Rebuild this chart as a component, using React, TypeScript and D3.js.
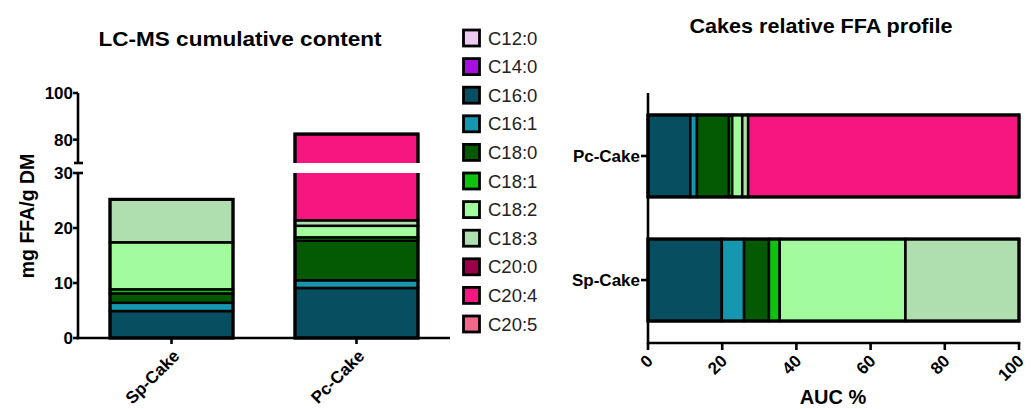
import React from 'react';
import * as d3 from 'd3';

const fattyAcids = ['C12:0', 'C14:0', 'C16:0', 'C16:1', 'C18:0', 'C18:1', 'C18:2', 'C18:3', 'C20:0', 'C20:4', 'C20:5'];
const faColors = ['#EBCBF2', '#A60FE0', '#064E60', '#1597B0', '#035A03', '#0DC30D', '#A2FC9E', '#AFDFAE', '#9A0048', '#F5177F', '#F2688A'];

const samples = ['Sp-Cake', 'Pc-Cake'];
const spCakeMg = [0, 0, 4.9, 1.5, 1.7, 0.75, 8.55, 7.8, 0, 0, 0];
const pcCakeMg = [0, 0, 9.1, 1.4, 7.2, 0.6, 2.1, 1.0, 0, 61.0, 0];

const relSamples = ['Pc-Cake', 'Sp-Cake'];
const pcCakeAuc = [0, 0, 11.4, 1.8, 8.6, 0.9, 2.7, 1.6, 0, 73.0, 0];
const spCakeAuc = [0, 0, 19.9, 6.0, 6.7, 2.9, 33.9, 30.6, 0, 0, 0];

const lowTicks = [0, 10, 20, 30];
const highTicks = [80, 100];
const aucTicks = [0, 20, 40, 60, 80, 100];

const FONT = "'Liberation Sans', Arial, Helvetica, sans-serif";

function toRows(names: string[], series: number[][]) {
  return names.map((s, i) => {
    const o: any = { sample: s };
    fattyAcids.forEach((f, j) => (o[f] = series[i][j]));
    return o;
  });
}

export default function App() {
  const W = 1035, H = 409;
  // ---------- left chart ----------
  const x = d3.scaleBand<string>().domain(samples).range([78, 450]).paddingInner(0.335).paddingOuter(0.173);
  const yLow = d3.scaleLinear().domain([0, 30]).range([338, 173]);
  const yHigh = d3.scaleLinear().domain([70, 100]).range([163, 93]);
  const leftRows = toRows(samples, [spCakeMg, pcCakeMg]);
  const leftStack = d3.stack<any>().keys(fattyAcids)(leftRows);
  const totals = leftRows.map((r) => fattyAcids.reduce((a, f) => a + r[f], 0));

  // ---------- right chart ----------
  const xr = d3.scaleLinear().domain([0, 100]).range([648, 1019]);
  const yr = d3.scaleBand<string>().domain(relSamples).range([93, 343]).paddingInner(0.339).paddingOuter(0.177);
  const rightRows = toRows(relSamples, [pcCakeAuc, spCakeAuc]);
  const rightStack = d3.stack<any>().keys(fattyAcids)(rightRows);

  const panels = [
    { id: 'clipLow', y: yLow, clipY: 173, clipH: 170 },
    { id: 'clipHigh', y: yHigh, clipY: 85, clipH: 78 },
  ];

  return (
    <svg width={W} height={H} style={{ position: 'absolute', left: 0, top: 0, background: '#fff' }} fontFamily={FONT}>
      <defs>
        {panels.map((p) => (
          <clipPath id={p.id} key={p.id}>
            <rect x={0} y={p.clipY} width={460} height={p.clipH} />
          </clipPath>
        ))}
      </defs>

      {/* Titles */}
      <text x={240} y={46} textAnchor="middle" fontWeight="bold" fontSize={20.5} textLength={283} lengthAdjust="spacingAndGlyphs">LC-MS cumulative content</text>
      <text x={821} y={33} textAnchor="middle" fontWeight="bold" fontSize={20.5} textLength={263} lengthAdjust="spacingAndGlyphs">Cakes relative FFA profile</text>

      {/* Left bars */}
      {panels.map((p) => (
        <g key={p.id} clipPath={`url(#${p.id})`}>
          {leftStack.map((layer, li) =>
            layer.map((d, si) => {
              if (d[1] - d[0] <= 0) return null;
              const y0 = p.y(d[0]);
              const y1 = p.y(d[1]);
              return (
                <rect key={`${li}-${si}`} x={x(samples[si])!} y={y1} width={x.bandwidth()} height={y0 - y1}
                  fill={faColors[li]} stroke="#000" strokeWidth={2.5} />
              );
            })
          )}
          {samples.map((s, si) => (
            <rect key={s} x={x(s)!} y={p.y(totals[si])} width={x.bandwidth()} height={p.y(0) - p.y(totals[si])}
              fill="none" stroke="#000" strokeWidth={3.2} />
          ))}
        </g>
      ))}

      {/* Left axes */}
      <g stroke="#000" strokeWidth={2.6} fill="none">
        <line x1={78} x2={78} y1={yLow(0) + 1.3} y2={yLow(30)} />
        <line x1={78} x2={78} y1={yHigh(70)} y2={yHigh(100)} />
        <line x1={74} x2={83} y1={yHigh(70)} y2={yHigh(70)} />
        <line x1={78} x2={83} y1={yLow(30)} y2={yLow(30)} />
        <line x1={76.7} x2={450} y1={yLow(0)} y2={yLow(0)} />
        {lowTicks.map((t) => (
          <line key={t} x1={73} x2={78} y1={yLow(t)} y2={yLow(t)} />
        ))}
        {highTicks.map((t) => (
          <line key={t} x1={73} x2={78} y1={yHigh(t)} y2={yHigh(t)} />
        ))}
        {samples.map((s) => (
          <line key={s} x1={x(s)! + x.bandwidth() / 2} x2={x(s)! + x.bandwidth() / 2} y1={yLow(0)} y2={yLow(0) + 6} />
        ))}
      </g>
      <g fontWeight="bold" fontSize={17} textAnchor="end">
        {lowTicks.map((t) => (
          <text key={t} x={73} y={yLow(t)} dy="0.36em">{t}</text>
        ))}
        {highTicks.map((t) => (
          <text key={t} x={73} y={yHigh(t)} dy="0.36em">{t}</text>
        ))}
      </g>
      <text transform="translate(34,216) rotate(-90)" textAnchor="middle" fontWeight="bold" fontSize={19.5}>mg FFA/g DM</text>
      <g fontWeight="bold" fontSize={17} textAnchor="end">
        {samples.map((s) => (
          <text key={s} transform={`translate(${x(s)! + x.bandwidth() / 2 + 9},357) rotate(-45)`}>{s}</text>
        ))}
      </g>

      {/* Legend */}
      <g>
        {fattyAcids.map((f, i) => {
          const cy = 38 + i * 28.6;
          return (
            <g key={f}>
              <rect x={463.5} y={cy - 8} width={16} height={16} fill={faColors[i]} stroke="#000" strokeWidth={2.8} />
              <text x={488} y={cy} dy="0.36em" fontSize={18.5} fill="#222">{f}</text>
            </g>
          );
        })}
      </g>

      {/* Right bars */}
      {rightStack.map((layer, li) =>
        layer.map((d, si) => {
          if (d[1] - d[0] <= 0) return null;
          return (
            <rect key={`r${li}-${si}`} x={xr(d[0])} y={yr(relSamples[si])!} width={xr(d[1]) - xr(d[0])} height={yr.bandwidth()}
              fill={faColors[li]} stroke="#000" strokeWidth={2.5} />
          );
        })
      )}
      {relSamples.map((s) => (
        <rect key={`ro${s}`} x={xr(0)} y={yr(s)!} width={xr(100) - xr(0)} height={yr.bandwidth()} fill="none" stroke="#000" strokeWidth={3.2} />
      ))}

      {/* Right axes */}
      <g stroke="#000" strokeWidth={2.6} fill="none">
        <line x1={xr(0)} x2={xr(0)} y1={93} y2={344.3} />
        <line x1={xr(0)} x2={xr(100) + 1.3} y1={343} y2={343} />
        {aucTicks.map((t) => (
          <line key={t} x1={xr(t)} x2={xr(t)} y1={343} y2={350} />
        ))}
        {relSamples.map((s) => (
          <line key={s} x1={641} x2={648} y1={yr(s)! + yr.bandwidth() / 2} y2={yr(s)! + yr.bandwidth() / 2} />
        ))}
      </g>
      <g fontWeight="bold" fontSize={17} textAnchor="end">
        {relSamples.map((s) => (
          <text key={s} x={640} y={yr(s)! + yr.bandwidth() / 2} dy="0.36em">{s}</text>
        ))}
        {aucTicks.map((t) => (
          <text key={t} transform={`translate(${xr(t) + 6},362) rotate(-45)`}>{t}</text>
        ))}
      </g>
      <text x={833} y={404} textAnchor="middle" fontWeight="bold" fontSize={20}>AUC %</text>
    </svg>
  );
}
